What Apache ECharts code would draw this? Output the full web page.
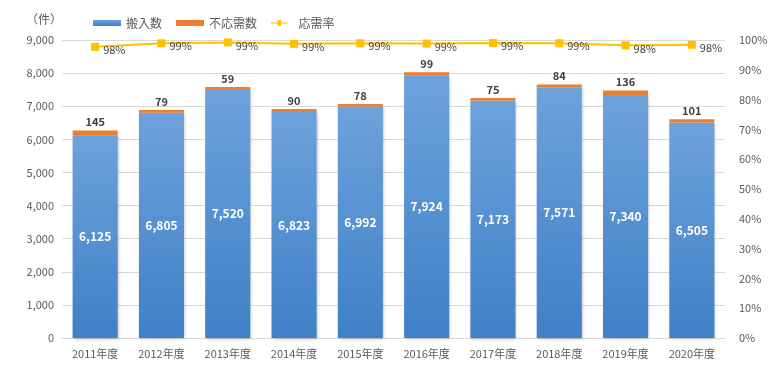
<!DOCTYPE html>
<html><head><meta charset="utf-8">
<script src="https://cdn.jsdelivr.net/npm/echarts@6/dist/echarts.min.js"></script>
<style>html,body{margin:0;padding:0;background:#fff}#c{width:779px;height:370px}</style>
</head><body><div id="c"></div>
<script>
const categories = ['2011年度','2012年度','2013年度','2014年度','2015年度','2016年度','2017年度','2018年度','2019年度','2020年度'];
const carriedIn = [6125, 6805, 7520, 6823, 6992, 7924, 7173, 7571, 7340, 6505];
const notResponded = [145, 79, 59, 90, 78, 99, 75, 84, 136, 101];
const responseRate = [97.7, 98.9, 99.2, 98.7, 98.9, 98.8, 99.0, 98.9, 98.2, 98.4];
const leftTicks = {min: 0, max: 9000, interval: 1000};
const rightTicks = {min: 0, max: 100, interval: 10};

const font = '"Noto Sans CJK JP", "Noto Sans", sans-serif';
const chart = echarts.init(document.getElementById('c'));
chart.setOption({
  animation: false,
  textStyle: {fontFamily: font},
  graphic: [{type: 'text', left: 26, top: 13, style: {text: '（件）', fontSize: 12, fill: '#595959', fontFamily: font}}],
  legend: {
    left: 88, top: 12, itemGap: 14, itemWidth: 28, itemHeight: 6,
    textStyle: {fontSize: 12, color: '#595959', fontFamily: font},
    data: [
      {name: '搬入数', icon: 'rect'},
      {name: '不応需数', icon: 'rect'},
      {name: '応需率', icon: 'path://M0,4H11V0H17V4H28V6H17V10H11V6H0Z'}
    ]
  },
  grid: {left: 62, right: 54, top: 40, bottom: 32},
  xAxis: {
    type: 'category', data: categories,
    axisLine: {lineStyle: {color: '#d9d9d9'}},
    axisTick: {show: false},
    axisLabel: {color: '#595959', fontSize: 11, margin: 10}
  },
  yAxis: [
    {type: 'value', min: leftTicks.min, max: leftTicks.max, interval: leftTicks.interval,
     axisLabel: {color: '#595959', fontSize: 11, formatter: v => v.toLocaleString('en-US')},
     splitLine: {lineStyle: {color: '#d9d9d9'}}, axisLine: {show: false}, axisTick: {show: false}},
    {type: 'value', min: rightTicks.min, max: rightTicks.max, interval: rightTicks.interval,
     axisLabel: {color: '#595959', fontSize: 11, formatter: '{value}%', margin: 14},
     splitLine: {show: false}, axisLine: {show: false}, axisTick: {show: false}}
  ],
  series: [
    {name: '搬入数', type: 'bar', stack: 's', data: carriedIn, barWidth: '68%',
     itemStyle: {color: new echarts.graphic.LinearGradient(0, 0, 0, 1, [
       {offset: 0, color: '#6da2dc'}, {offset: 1, color: '#3f80c7'}]),
       shadowColor: 'rgba(0,0,0,0.25)', shadowBlur: 3, shadowOffsetX: 1, shadowOffsetY: 1},
     label: {show: true, position: 'inside', color: '#fff', fontWeight: 'bold', fontSize: 12,
       formatter: p => p.value.toLocaleString('en-US')}},
    {name: '不応需数', type: 'bar', stack: 's', data: notResponded,
     itemStyle: {color: '#ed7d31'},
     label: {show: true, position: 'top', color: '#404040', fontWeight: 'bold', fontSize: 11, distance: 3}},
    {name: '応需率', type: 'line', yAxisIndex: 1, data: responseRate,
     symbol: 'rect', symbolSize: 8,
     lineStyle: {color: '#ffc000', width: 2}, itemStyle: {color: '#ffc000'},
     label: {show: true, position: 'right', distance: 4, offset: [0, 3], color: '#404040', fontSize: 11,
       formatter: p => Math.round(p.value) + '%'}}
  ]
});
</script></body></html>
